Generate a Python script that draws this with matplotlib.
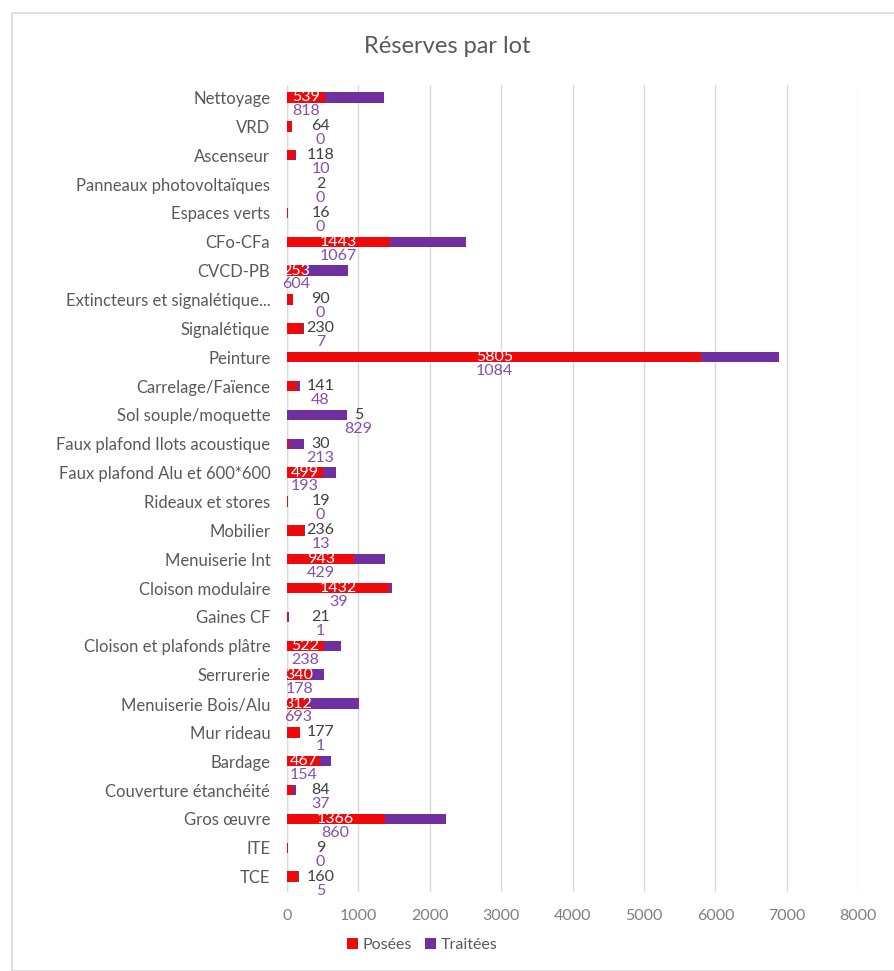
import matplotlib.pyplot as plt
from matplotlib.patches import Rectangle

# Réserves par lot - posées / traitées
lots = [
    "Nettoyage", "VRD", "Ascenseur", "Panneaux photovoltaïques", "Espaces verts",
    "CFo-CFa", "CVCD-PB", "Extincteurs et signalétique...", "Signalétique", "Peinture",
    "Carrelage/Faïence", "Sol souple/moquette", "Faux plafond Ilots acoustique",
    "Faux plafond Alu et 600*600", "Rideaux et stores", "Mobilier", "Menuiserie Int",
    "Cloison modulaire", "Gaines CF", "Cloison et plafonds plâtre", "Serrurerie",
    "Menuiserie Bois/Alu", "Mur rideau", "Bardage", "Couverture étanchéité",
    "Gros œuvre", "ITE", "TCE",
]
posees = [539, 64, 118, 2, 16, 1443, 253, 90, 230, 5805, 141, 5, 30, 499, 19, 236,
          943, 1432, 21, 522, 340, 312, 177, 467, 84, 1366, 9, 160]
traitees = [818, 0, 10, 0, 0, 1067, 604, 0, 7, 1084, 48, 829, 213, 193, 0, 13,
            429, 39, 1, 238, 178, 693, 1, 154, 37, 860, 0, 5]
xticks = [0, 1000, 2000, 3000, 4000, 5000, 6000, 7000, 8000]

red = "#EE0A0A"
purple = "#7030A0"
gray = "#595959"

plt.rcParams['font.family'] = ['Lato', 'DejaVu Sans']

fig = plt.figure(figsize=(8.94, 9.71), dpi=100)
fig.patches.append(Rectangle((12 / 894, 0.0), 1.0, 1 - 13 / 971, transform=fig.transFigure,
                             fill=False, edgecolor="#d9d9d9", linewidth=1.2))

ax = fig.add_axes([0.321, 0.0814, 0.639, 0.831])
y = list(range(len(lots)))
ax.barh(y, posees, height=0.36, color=red, label="Posées", zorder=3)
ax.barh(y, traitees, left=posees, height=0.36, color=purple, label="Traitées", zorder=3)

# data labels: posées inside (white) when large enough, else to the right;
# traitées just below the posées label
for i, (p, t) in enumerate(zip(posees, traitees)):
    if p >= 250:
        lx = p / 2
        ax.text(lx, i, str(p), color="white", ha="center", va="center",
                fontsize=11.5, zorder=4)
    else:
        lx = max(p + t + 170, 470)
        ax.text(lx, i, str(p), color="#404040", ha="center", va="center",
                fontsize=11.5, zorder=4)
    ax.text(lx, i + 0.48, str(t), color=purple, ha="center", va="center",
            fontsize=11.5, alpha=0.85, zorder=4)

ax.set_ylim(len(lots) - 1 + 0.53, -0.43)
ax.set_xlim(0, 8000)
ax.set_xticks(xticks)
ax.set_yticks(y)
ax.set_yticklabels(lots, fontsize=12, color=gray)
ax.tick_params(axis="x", colors="#7f7f7f", labelsize=11.5, length=0, pad=12)
ax.tick_params(axis="y", length=0, pad=12)
ax.grid(axis="x", color="#d9d9d9", linewidth=1, zorder=0)
for s in ax.spines.values():
    s.set_visible(False)
ax.axvline(0, color="#d0d0d0", linewidth=1, zorder=1)

fig.text(0.5, 0.952, "Réserves par lot", ha="center", va="center",
         fontsize=17, color=gray)

fig.legend(loc="center", bbox_to_anchor=(0.472, 0.027), ncol=2, frameon=False,
           fontsize=11.5, handlelength=0.7, handleheight=0.7, handletextpad=0.3,
           columnspacing=0.8, labelcolor=gray)

fig.savefig("out.png", dpi=100)
